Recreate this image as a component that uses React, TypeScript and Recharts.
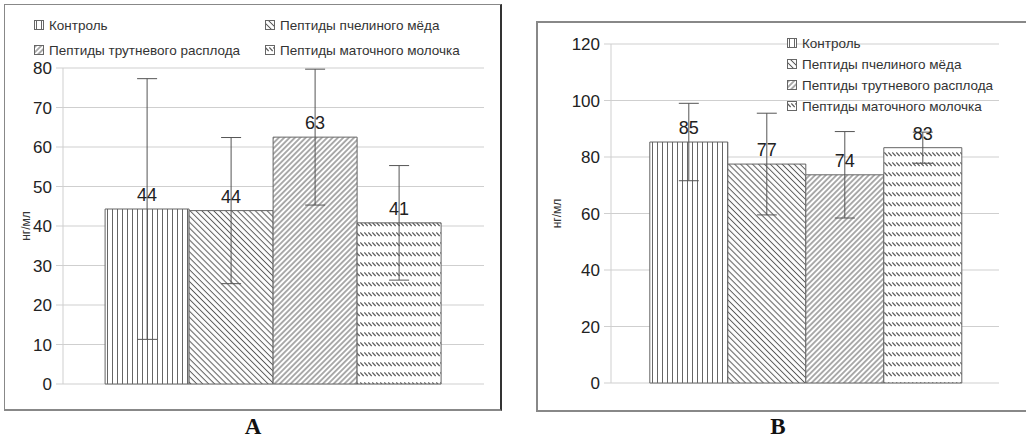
import React from 'react';
import { BarChart, Bar, XAxis, YAxis, CartesianGrid, ErrorBar, LabelList } from 'recharts';

const seriesNames = ['Контроль', 'Пептиды пчелиного мёда', 'Пептиды трутневого расплода', 'Пептиды маточного молочка'];
const valuesA = [44.3, 43.9, 62.5, 40.8];
const errorsA = [33.0, 18.5, 17.2, 14.5];
const labelsA = ['44', '44', '63', '41'];
const ticksA = [0, 10, 20, 30, 40, 50, 60, 70, 80];
const valuesB = [85.3, 77.5, 73.7, 83.3];
const errorsB = [13.7, 18.0, 15.3, 5.5];
const labelsB = ['85', '77', '74', '83'];
const ticksB = [0, 20, 40, 60, 80, 100, 120];
const panelTitles = ['A', 'B'];
const unitLabel = 'нг/мл';

const FONT = '"Liberation Sans", Arial, sans-serif';

function buildRows(values: number[], errors: number[]) {
  const row: any = { name: 'g' };
  values.forEach((v, i) => {
    row['v' + i] = v;
    row['e' + i] = errors[i];
  });
  return [row];
}

function Patterns({ p }: { p: string }) {
  return (
    <defs>
      <pattern id={p + '0'} patternUnits="userSpaceOnUse" width={5} height={10}>
        <rect width={5} height={10} fill="#fff" />
        <line x1={2.5} y1={0} x2={2.5} y2={10} stroke="#666" strokeWidth={1} />
      </pattern>
      <pattern id={p + '1'} patternUnits="userSpaceOnUse" width={4.2} height={10} patternTransform="rotate(-45)">
        <rect width={4.2} height={10} fill="#fff" />
        <line x1={2.1} y1={0} x2={2.1} y2={10} stroke="#5a5a5a" strokeWidth={1} />
      </pattern>
      <pattern id={p + '2'} patternUnits="userSpaceOnUse" width={3.8} height={10} patternTransform="rotate(45)">
        <rect width={3.8} height={10} fill="#fff" />
        <line x1={1.9} y1={0} x2={1.9} y2={10} stroke="#5a5a5a" strokeWidth={1} />
      </pattern>
      <pattern id={p + '3'} patternUnits="userSpaceOnUse" width={4} height={10}>
        <rect width={4} height={10} fill="#fff" />
        <line x1={0.3} y1={2.5} x2={3.7} y2={6} stroke="#5a5a5a" strokeWidth={1.3} />
      </pattern>
    </defs>
  );
}

function Panel(props: {
  p: string;
  values: number[];
  errors: number[];
  labels: string[];
  ticks: number[];
  width: number;
  height: number;
  margin: any;
  labelOffset: number;
}) {
  const data = buildRows(props.values, props.errors);
  const max = props.ticks[props.ticks.length - 1];
  return (
    <BarChart width={props.width} height={props.height} data={data} margin={props.margin} barCategoryGap="10%" barGap={0}>
      <Patterns p={props.p} />
      <CartesianGrid vertical={false} stroke="#cfcfcf" />
      <XAxis dataKey="name" hide />
      <YAxis
        domain={[0, max]}
        ticks={props.ticks}
        width={55}
        interval={0}
        axisLine={{ stroke: '#cfcfcf' }}
        tickLine={{ stroke: '#cfcfcf' }}
        tickSize={7}
        tickMargin={4}
        tick={{ fill: '#222', fontSize: 17, fontFamily: FONT }}
        label={{
          value: unitLabel,
          angle: -90,
          position: 'insideLeft',
          offset: props.labelOffset,
          style: { textAnchor: 'middle', fill: '#333', fontSize: 12, fontFamily: FONT },
        }}
      />
      <YAxis yAxisId="r" orientation="right" width={0} tick={false} tickLine={false} axisLine={{ stroke: '#cfcfcf' }} domain={[0, max]} />
      {props.values.map((_, i) => (
        <Bar key={i} dataKey={'v' + i} name={seriesNames[i]} fill={`url(#${props.p}${i})`} stroke="#666" strokeWidth={1} isAnimationActive={false}>
          <ErrorBar dataKey={'e' + i} width={10} stroke="#555" strokeWidth={1} direction="y" />
          <LabelList
            dataKey={'v' + i}
            position="top"
            offset={8}
            formatter={() => props.labels[i]}
            fill="#222"
            fontSize={18}
            fontFamily={FONT}
          />
        </Bar>
      ))}
    </BarChart>
  );
}

function LegendItem({ p, i, x, y }: { p: string; i: number; x: number; y: number }) {
  return (
    <div style={{ position: 'absolute', left: x, top: y - 9, height: 18, display: 'flex', alignItems: 'center', whiteSpace: 'nowrap' }}>
      <svg width={10} height={10} style={{ marginRight: 5 }}>
        <rect x={0.5} y={0.5} width={9} height={9} fill={`url(#${p}${i})`} stroke="#666" strokeWidth={1} />
      </svg>
      <span style={{ fontFamily: FONT, fontSize: 13.5, color: '#333' }}>{seriesNames[i]}</span>
    </div>
  );
}

export default function App() {
  return (
    <div style={{ position: 'absolute', left: 0, top: 0, width: 1026, height: 446, overflow: 'hidden', background: '#fff' }}>
      <div
        style={{
          position: 'absolute',
          left: 4,
          top: 4,
          width: 495,
          height: 404,
          borderTop: '1.5px solid #888',
          borderLeft: '1.5px solid #888',
          borderRight: '2px solid #333',
          borderBottom: '2px solid #888',
        }}
      />
      <div
        style={{
          position: 'absolute',
          left: 536,
          top: 21,
          width: 500,
          height: 387,
          border: '2px solid #888',
        }}
      />
      <div style={{ position: 'absolute', left: 0, top: 0 }}>
        <Panel
          p="pA"
          values={valuesA}
          errors={errorsA}
          labels={labelsA}
          ticks={ticksA}
          width={500}
          height={400}
          margin={{ top: 68, right: 16, bottom: 16, left: 8 }}
          labelOffset={18}
        />
      </div>
      <div style={{ position: 'absolute', left: 520, top: 0 }}>
        <Panel
          p="pB"
          values={valuesB}
          errors={errorsB}
          labels={labelsB}
          ticks={ticksB}
          width={506}
          height={400}
          margin={{ top: 44, right: 27, bottom: 17, left: 36 }}
          labelOffset={1}
        />
      </div>
      <LegendItem p="pA" i={0} x={34} y={25} />
      <LegendItem p="pA" i={1} x={265} y={25} />
      <LegendItem p="pA" i={2} x={34} y={50} />
      <LegendItem p="pA" i={3} x={265} y={50} />
      <LegendItem p="pB" i={0} x={787} y={43} />
      <LegendItem p="pB" i={1} x={787} y={64} />
      <LegendItem p="pB" i={2} x={787} y={85} />
      <LegendItem p="pB" i={3} x={787} y={106} />
      {panelTitles.map((t, k) => (
        <div
          key={t}
          style={{
            position: 'absolute',
            left: k === 0 ? 253 - 30 : 778 - 30,
            width: 60,
            top: 414,
            textAlign: 'center',
            fontFamily: '"Liberation Serif", "Times New Roman", serif',
            fontWeight: 'bold',
            fontSize: 23,
            color: '#111',
          }}
        >
          {t}
        </div>
      ))}
    </div>
  );
}
